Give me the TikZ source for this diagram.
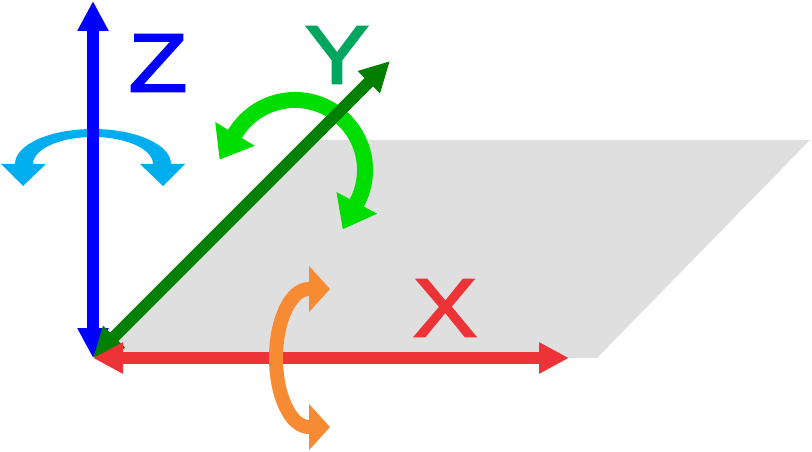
\documentclass[tikz,border=0pt]{standalone}
\usepackage{fontspec}
\setmainfont{Liberation Sans}
\newfontfamily\axisfont[FakeBold=2.3, FakeStretch=1.17]{Liberation Sans}
\usetikzlibrary{arrows.meta}
\definecolor{planegray}{HTML}{DFDFDF}
\definecolor{zblue}{HTML}{0000FF}
\definecolor{ydark}{HTML}{007F00}
\definecolor{xred}{HTML}{EE3338}
\definecolor{ylabel}{HTML}{00A65D}
\definecolor{spincyan}{HTML}{00AEEF}
\definecolor{spingreen}{HTML}{00DD00}
\definecolor{spinorange}{HTML}{F68B33}

\begin{document}
\begin{tikzpicture}[
    x=0.75pt, y=0.75pt,
    axis/.style={draw=#1, line width=9pt,
      {Triangle[length=22.5pt, width=22pt]}-{Triangle[length=22.5pt, width=22pt]}},
    spinhead/.style={fill=#1},
    spiny/.style={draw=spingreen, line width=12pt,
      {Triangle[length=22.5pt, width=33pt]}-{Triangle[length=22.5pt, width=33pt]}},
    spinx/.style={draw=spinorange, line width=10.5pt,
      {Triangle[length=15.75pt, width=33.75pt]}-{Triangle[length=15.75pt, width=33.75pt]}},
    axislabel/.style={text=#1, inner sep=0pt, font=\axisfont\fontsize{62}{62}\selectfont}
]
\useasboundingbox (0,0) rectangle (812,-452);

% Ground plane
\fill[planegray] (93,-358) -- (311,-140) -- (810,-140) -- (597,-358) -- cycle;

% Axis ends
\coordinate (O) at (93,-358);
\coordinate (zend) at (93,-1);
\coordinate (yend) at (390,-61);
\coordinate (xend) at (569,-358);

% Rotation about Z (crescent band, two heads)
\fill[spincyan] (15,-164) arc[start angle=180, end angle=0, x radius=78, y radius=35]
  -- (153,-164) arc[start angle=0, end angle=180, x radius=60, y radius=27] -- cycle;
\coordinate (zl) at (23,-186);
\coordinate (zr) at (163,-186);
\fill[spinhead=spincyan] (1,-164) -- (46,-164) -- (zl) -- cycle;
\fill[spinhead=spincyan] (140,-164) -- (185,-164) -- (zr) -- cycle;

% Rotation about Y
\coordinate (yc) at (295,-170);
\path (yc) ++(-28:70) ++(-118:30) coordinate (ya);
\draw[spiny] (ya) -- ++(62:30) arc[start angle=-28, end angle=149, radius=70] -- ++(239:30);

% Axes
\draw[axis=zblue] (O) -- (zend);
\draw[axis=ydark] (O) -- (yend);
\draw[axis=xred] (O) -- (xend);

% Rotation about X
\coordinate (xt) at (330,-289);
\coordinate (xb) at (330,-427);
\draw[spinx] (xt) -- (309,-289) arc[start angle=90, end angle=270, x radius=33, y radius=69] -- (xb);

% Labels
\node[axislabel=zblue] (zlab) at (158,-63) {Z};
\node[axislabel=ylabel] (ylab) at (337,-55) {Y};
\node[axislabel=xred] (xlab) at (445,-308) {X};

\end{tikzpicture}
\end{document}
